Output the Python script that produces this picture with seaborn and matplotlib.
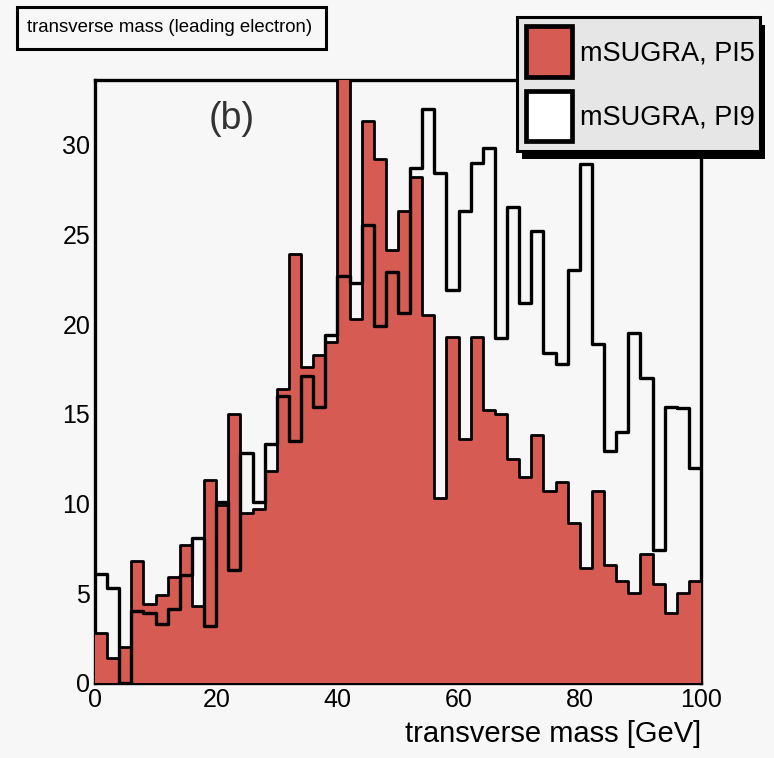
import numpy as np
import pandas as pd
import matplotlib
matplotlib.use("Agg")
import matplotlib.pyplot as plt
from matplotlib.patches import Patch, Rectangle
from matplotlib.ticker import MultipleLocator
import seaborn as sns

# 50 bins of 2 GeV between 0 and 100
n_bins = 50
x_range = (0, 100)
bin_centers = np.arange(1, 100, 2)

pi5_counts = [2.8, 1.4, 2.0, 6.8, 4.4, 4.9, 5.9, 7.7, 4.3, 11.3,
              9.9, 15.0, 9.5, 9.7, 11.8, 16.4, 23.9, 17.6, 18.3, 19.0,
              35.0, 20.3, 31.3, 29.2, 24.1, 26.3, 28.2, 20.5, 10.3, 19.3,
              13.6, 19.3, 15.2, 15.0, 12.5, 11.5, 13.8, 10.7, 11.2, 8.9,
              6.4, 10.7, 6.6, 5.7, 5.0, 7.2, 5.5, 3.9, 5.0, 5.7]
pi9_counts = [6.1, 5.3, 0.0, 4.0, 3.9, 3.3, 4.1, 6.0, 8.1, 3.2,
              10.1, 6.3, 12.8, 10.1, 13.3, 16.0, 13.5, 17.1, 15.4, 19.4,
              22.7, 22.3, 25.5, 19.9, 22.9, 20.6, 28.7, 32.0, 28.4, 21.9,
              26.3, 29.0, 29.8, 19.2, 26.5, 21.2, 25.2, 18.4, 17.8, 23.0,
              28.9, 18.9, 12.9, 14.0, 19.5, 17.0, 7.4, 15.4, 15.3, 12.0]

series_labels = ["mSUGRA, PI5", "mSUGRA, PI9"]
title_text = "transverse mass (leading electron)"
panel_tag = "(b)"
x_title = "transverse mass [GeV]"

RED = "#d65b53"
BG = "#f7f7f7"
W, H = 774, 758

sns.set_style("white")
plt.rcParams["font.family"] = ["Liberation Sans", "DejaVu Sans"]
for key in ["text.color", "axes.labelcolor", "xtick.color", "ytick.color"]:
    plt.rcParams[key] = "black"

df = pd.DataFrame({"center": bin_centers, "pi5": pi5_counts, "pi9": pi9_counts})

fig = plt.figure(figsize=(W / 100, H / 100), dpi=100, facecolor=BG)
ax = fig.add_axes([95 / W, 1 - 683 / H, 606 / W, 603 / H])
ax.set_facecolor(BG)

common = dict(data=df, x="center", bins=n_bins, binrange=x_range, element="step", ax=ax)
sns.histplot(weights="pi5", fill=True, color=RED, alpha=1, linewidth=0,
             ec="none", zorder=3, **common)
sns.histplot(weights="pi5", fill=False, color="black", linewidth=2.0, zorder=4, **common)
sns.histplot(weights="pi9", fill=False, color="black", linewidth=2.4, zorder=5, **common)

ax.set_xlim(*x_range)
ax.set_ylim(0, 33.6)
ax.set_ylabel("")
ax.set_xlabel(x_title, loc="right", fontsize=21, labelpad=6)
ax.xaxis.set_major_locator(MultipleLocator(20))
ax.xaxis.set_minor_locator(MultipleLocator(4))
ax.yaxis.set_major_locator(MultipleLocator(5))
ax.yaxis.set_minor_locator(MultipleLocator(1))
ax.tick_params(which="both", direction="in", color="black", labelsize=18,
               top=False, right=False, pad=3.5)
ax.tick_params(which="major", length=16, width=1.8)
ax.tick_params(which="minor", length=8.5, width=1.8)
for side in ["left", "top", "right", "bottom"]:
    ax.spines[side].set_visible(True)
    ax.spines[side].set_color("black")
    ax.spines[side].set_linewidth(2.4)

# title box
fig.patches.append(Rectangle((18 / W, 1 - 51 / H), 309 / W, 42 / H,
                             transform=fig.transFigure, fc="black", ec="none", zorder=1))
fig.patches.append(Rectangle((17 / W, 1 - 49 / H), 309 / W, 42 / H,
                             transform=fig.transFigure, fc=BG, ec="black", lw=2.2, zorder=2))
fig.text(27 / W, 1 - 28 / H, title_text, ha="left", va="center",
         fontsize=13.4, zorder=3)

fig.text(232 / W, 1 - 119 / H, panel_tag, ha="center", va="center",
         fontsize=27, color="#333333")

# legend
handles = [Patch(facecolor=RED, edgecolor="black", linewidth=3.4),
           Patch(facecolor="white", edgecolor="black", linewidth=3.4)]
leg = fig.legend(handles, series_labels, loc="upper left",
                 bbox_to_anchor=(517 / W, 1 - 153 / H, 243 / W, 136 / H),
                 mode="expand", fontsize=19.5, handlelength=1.67, handleheight=2.5,
                 labelspacing=0.5, borderpad=0.35, handletextpad=0.3,
                 borderaxespad=0, fancybox=False, framealpha=1)
leg.get_frame().set_facecolor("#e6e6e6")
leg.get_frame().set_edgecolor("black")
leg.get_frame().set_linewidth(2.2)
leg.set_zorder(5)

# solid drop shadow under the legend box
fig.canvas.draw()
bb = leg.get_frame().get_window_extent()
fig.patches.append(Rectangle(((bb.x0 + 5) / W, (bb.y0 - 8) / H), bb.width / W, bb.height / H,
                             transform=fig.transFigure, fc="black", ec="none", zorder=4))

fig.savefig("out.png", dpi=100, facecolor=BG)
